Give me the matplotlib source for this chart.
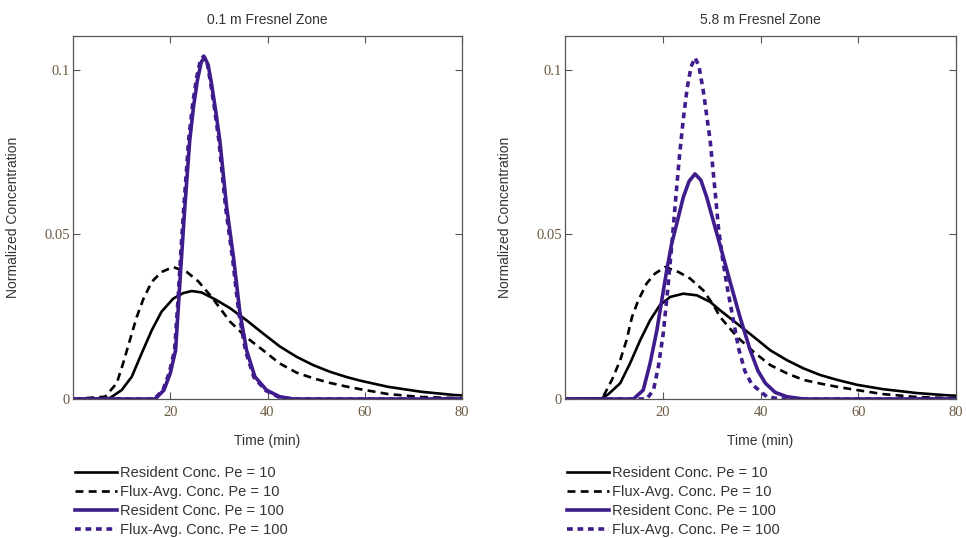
import numpy as np
import matplotlib
matplotlib.use("Agg")
import matplotlib.pyplot as plt

# ---- data (time in min, normalized concentration) ----
# 0.1 m Fresnel zone
t_res10_a = [0, 7.6, 10.0, 12.1, 14.1, 16.2, 18.2, 20.6, 22.7, 24.4, 26.4, 29.2, 32.3, 35.7,
             39.1, 42.5, 46.0, 49.4, 52.8, 56.2, 59.0, 64.8, 71.6, 78.5, 80]
c_res10_a = [0, 0.0003, 0.0027, 0.0068, 0.0138, 0.0209, 0.0265, 0.0305, 0.0322, 0.0328, 0.0324,
             0.0303, 0.0276, 0.0239, 0.0199, 0.0160, 0.0128, 0.0103, 0.0083, 0.0067, 0.0056,
             0.0037, 0.0022, 0.0012, 0.0011]
t_flux10_a = [0, 6.6, 9.0, 10.3, 11.7, 13.1, 14.5, 16.2, 18.2, 20.6, 23.4, 25.8, 28.5, 32.3,
              35.7, 39.1, 42.5, 46.0, 49.4, 52.8, 56.2, 59.0, 64.8, 71.6, 78.5, 80]
c_flux10_a = [0, 0.0007, 0.0048, 0.0108, 0.0179, 0.0249, 0.0305, 0.0356, 0.0386, 0.0401, 0.0386,
              0.0357, 0.0310, 0.0235, 0.0187, 0.0148, 0.0108, 0.0080, 0.0063, 0.0049, 0.0038,
              0.0030, 0.0015, 0.0006, 0.0003, 0.0002]
t_res100_a = [0, 16.9, 18.7, 20.0, 21.1, 21.75, 22.4, 23.0, 24.0, 24.8, 25.6, 26.4, 27.1, 27.8,
              28.5, 29.3, 30.2, 31.6, 33.0, 34.3, 35.7, 37.4, 39.8, 42.5, 45.3, 80]
c_res100_a = [0, 0, 0.0027, 0.0078, 0.0148, 0.0300, 0.0450, 0.0583, 0.0785, 0.0890, 0.0970,
              0.1025, 0.1037, 0.1015, 0.0957, 0.0880, 0.0785, 0.0583, 0.0431, 0.0265, 0.0148,
              0.0068, 0.0027, 0.0007, 0, 0]
t_flux100_a = [0, 16.7, 18.5, 19.8, 20.9, 21.6, 22.2, 22.8, 23.8, 24.6, 25.4, 26.2, 26.9, 27.6,
               28.3, 29.1, 30.0, 31.4, 32.8, 34.1, 35.5, 37.2, 39.6, 42.3, 45.0, 80]
c_flux100_a = [0, 0, 0.0027, 0.0080, 0.0150, 0.0302, 0.0452, 0.0586, 0.0790, 0.0895, 0.0975,
               0.1030, 0.1042, 0.1020, 0.0960, 0.0882, 0.0785, 0.0580, 0.0428, 0.0262, 0.0145,
               0.0066, 0.0026, 0.0006, 0, 0]

# 5.8 m Fresnel zone
t_res10_b = [0, 7.5, 8.9, 11.3, 13.3, 15.4, 17.4, 19.4, 21.5, 24.2, 27.0, 29.7, 31.7, 35.2,
             38.6, 42.0, 45.4, 48.8, 52.2, 55.7, 59.8, 65, 72, 78.5, 80]
c_res10_b = [0, 0.0002, 0.0015, 0.0048, 0.0108, 0.0179, 0.0239, 0.0285, 0.0310, 0.0320, 0.0315,
             0.0295, 0.0270, 0.0229, 0.0189, 0.0148, 0.0118, 0.0093, 0.0073, 0.0058, 0.0043,
             0.0030, 0.0018, 0.0011, 0.0010]
t_flux10_b = [0, 6.8, 7.8, 9.6, 11.3, 12.6, 13.7, 15.0, 16.7, 18.4, 20.5, 23.2, 25.6, 28.3,
              30.4, 31.7, 35.2, 38.6, 42.0, 45.4, 48.8, 52.2, 55.7, 59.8, 65, 72, 78.5, 80]
c_flux10_b = [0, 0, 0.0007, 0.0058, 0.0118, 0.0179, 0.0249, 0.0300, 0.0351, 0.0381, 0.0401,
              0.0386, 0.0366, 0.0330, 0.0285, 0.0250, 0.0189, 0.0143, 0.0103, 0.0078, 0.0058,
              0.0047, 0.0037, 0.0027, 0.0015, 0.0006, 0.0003, 0.0002]
t_res100_b = [0, 14.0, 16.0, 17.4, 18.8, 19.8, 20.8, 21.8, 22.9, 24.2, 25.4, 26.6, 27.8, 29.0,
              30.7, 32.4, 33.8, 35.8, 37.9, 39.5, 41.0, 43.0, 45.4, 48.8, 80]
c_res100_b = [0, 0, 0.0027, 0.0108, 0.0209, 0.0300, 0.0390, 0.0470, 0.0535, 0.0613, 0.0662,
              0.0684, 0.0665, 0.0613, 0.0522, 0.0431, 0.0355, 0.0249, 0.0148, 0.0085, 0.0048,
              0.0020, 0.0007, 0, 0]
t_flux100_b = [0, 16.7, 18.1, 19.1, 20.1, 21.0, 21.8, 22.6, 23.4, 24.2, 25.0, 25.8, 26.6, 27.4,
               28.3, 29.7, 30.7, 31.4, 32.3, 33.3, 34.5, 35.5, 36.8, 38.2, 41.3, 44.0, 80]
c_flux100_b = [0, 0, 0.0027, 0.0098, 0.0199, 0.0330, 0.0460, 0.0600, 0.0735, 0.0850, 0.0945,
               0.1010, 0.1037, 0.1012, 0.0936, 0.0785, 0.0633, 0.0520, 0.0420, 0.0330, 0.0235,
               0.0155, 0.0085, 0.0045, 0.0007, 0, 0]

titles = ["0.1 m Fresnel Zone", "5.8 m Fresnel Zone"]
labels = ["Resident Conc. Pe = 10", "Flux-Avg. Conc. Pe = 10",
          "Resident Conc. Pe = 100", "Flux-Avg. Conc. Pe = 100"]
xticks = [20, 40, 60, 80]
yticks = [0, 0.05, 0.1]
ytick_labels = ["0", "0.05", "0.1"]

panels = [
    [(t_res10_a, c_res10_a), (t_flux10_a, c_flux10_a), (t_res100_a, c_res100_a), (t_flux100_a, c_flux100_a)],
    [(t_res10_b, c_res10_b), (t_flux10_b, c_flux10_b), (t_res100_b, c_res100_b), (t_flux100_b, c_flux100_b)],
]

purple = "#3e1c8c"
text_col = "#333333"
tick_col = "#6b5a40"
styles = [
    dict(color="black", lw=1.9, ls="-"),
    dict(color="black", lw=1.9, dashes=(3, 2)),
    dict(color=purple, lw=2.6, ls="-"),
    dict(color=purple, lw=2.6, dashes=(1.6, 1.3)),
]

plt.rcParams["font.family"] = ["Liberation Sans", "DejaVu Sans"]
fig = plt.figure(figsize=(9.66, 5.38), dpi=100)
ax_rects = [[73 / 966, 139 / 538, 389 / 966, 363 / 538],
            [565 / 966, 139 / 538, 391 / 966, 363 / 538]]

for k in range(2):
    ax = fig.add_axes(ax_rects[k])
    for (t, c), st in zip(panels[k], styles):
        ax.plot(t, c, solid_joinstyle="round", **st)
    ax.set_xlim(0, 80)
    ax.set_ylim(0, 0.1103)
    ax.set_xticks(xticks)
    ax.set_xticklabels([str(v) for v in xticks])
    ax.set_yticks(yticks)
    ax.set_yticklabels(ytick_labels)
    ax.tick_params(direction="in", top=True, right=True, length=5, width=0.8,
                   color="#555555", labelcolor=tick_col, labelsize=10.5)
    ax.tick_params(axis="x", pad=5)
    ax.tick_params(axis="y", pad=2)
    for lab in ax.get_xticklabels() + ax.get_yticklabels():
        lab.set_family("Liberation Serif")
    for sp in ax.spines.values():
        sp.set_color("#555555")
        sp.set_linewidth(0.9)
    ax.set_title(titles[k], fontsize=10, color=text_col, pad=9)
    ax.set_xlabel("Time (min)", fontsize=10, color=text_col)
    ax.xaxis.set_label_coords(0.5, -0.097)
    ax.set_ylabel("Normalized Concentration", fontsize=10, color=text_col)
    ax.yaxis.set_label_coords(-0.136, 0.5)

    handles = ax.get_lines()
    leg = fig.legend(handles, labels, loc="upper left",
                     bbox_to_anchor=((ax_rects[k][0] * 966 + 2) / 966, 1 - 466 / 538),
                     frameon=False, fontsize=10.5, borderpad=0, borderaxespad=0,
                     handlelength=2.85, handletextpad=0.25, labelspacing=0.34)
    for txt in leg.get_texts():
        txt.set_color(text_col)

fig.savefig("out.png", dpi=100)
